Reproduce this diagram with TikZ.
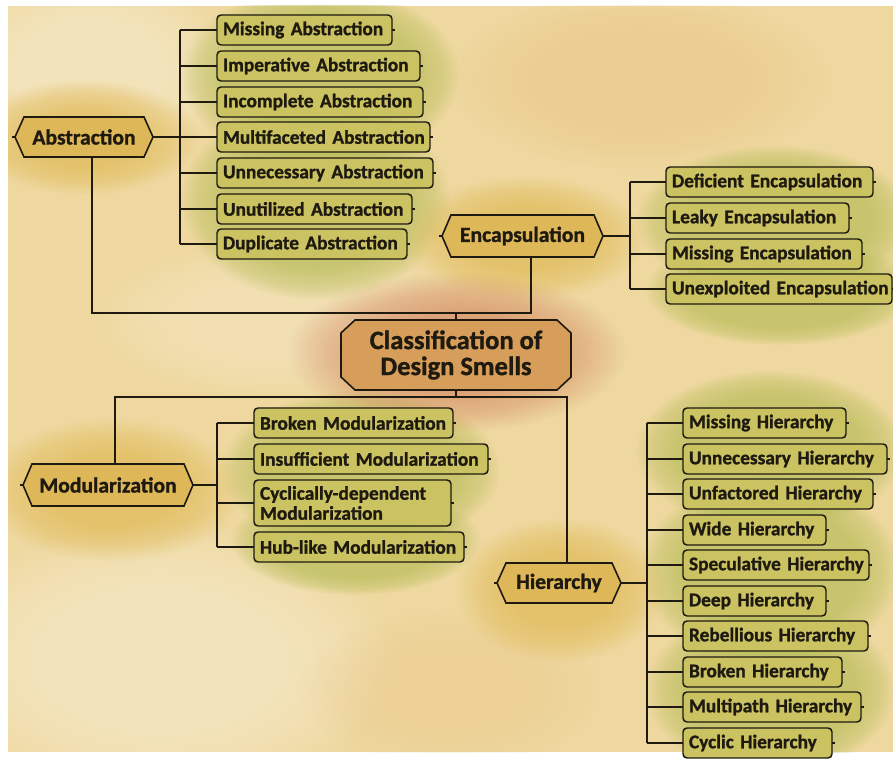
\documentclass[tikz,border=0pt]{standalone}
\usepackage{fontspec}
\setmainfont{Carlito}[BoldFeatures={FakeBold=1.2}]
\usetikzlibrary{fadings,backgrounds}
\definecolor{paper}{HTML}{EED89F}
\definecolor{lineC}{HTML}{1E1A10}
\definecolor{leafC}{HTML}{CBC262}
\definecolor{hexC}{HTML}{DEB758}
\definecolor{cenC}{HTML}{D69E5A}
\definecolor{gblob}{HTML}{B5BB56}
\definecolor{yblob}{HTML}{E0B955}
\definecolor{rblob}{HTML}{CF7E5C}
\definecolor{oblob}{HTML}{E8C080}
\pgfdeclareradialshading{softblobshade}{\pgfpoint{0bp}{0bp}}{color(0bp)=(pgftransparent!0); color(12bp)=(pgftransparent!0); color(19bp)=(pgftransparent!40); color(25bp)=(pgftransparent!100); color(50bp)=(pgftransparent!100)}
\pgfdeclarefading{softblob}{\pgfuseshading{softblobshade}}
\pgfdeclareradialshading{washshade}{\pgfpoint{0bp}{0bp}}{color(0bp)=(pgftransparent!0); color(17bp)=(pgftransparent!0); color(22bp)=(pgftransparent!45); color(25bp)=(pgftransparent!100); color(50bp)=(pgftransparent!100)}
\pgfdeclarefading{wash}{\pgfuseshading{washshade}}
\newcommand\leaffont{\fontsize{14.5}{15}\selectfont\bfseries}
\newcommand\hexfont{\fontsize{16.2}{17}\selectfont\bfseries}
\newcommand\cenfont{\fontsize{19.9}{19.5}\selectfont\bfseries}
\newcommand\hexshape[1]{%
  \draw[hexline] (#1.west) -- ([xshift=6.75pt]#1.north west) -- ([xshift=-6.75pt]#1.north east) -- (#1.east) -- ([xshift=-6.75pt]#1.south east) -- ([xshift=6.75pt]#1.south west) -- cycle;
  \draw[conn] (#1.west) -- ([xshift=-2.5pt]#1.west);}
\tikzset{
  conn/.style={draw=lineC, line width=1.3pt},
  hexline/.style={draw=lineC, line width=1.2pt, fill=hexC, line join=miter},
  hexnode/.style={rectangle, inner sep=0pt, outer sep=0pt, text=lineC, font=\hexfont},
  leaf/.style={draw=lineC, line width=1.1pt, fill=leafC, rounded corners=3pt, anchor=west,
    minimum height=22.5pt, inner xsep=4.5pt, inner ysep=2pt, outer sep=0pt,
    text width={(#1-12)*0.75pt}, align=left, text=lineC, font=\leaffont},
  blob/.style={path fading=softblob},
  gwash/.style={gblob, fill opacity=0.68, path fading=wash},
}
\begin{document}
\begin{tikzpicture}[x=0.75pt,y=-0.75pt]
\useasboundingbox (0,0) rectangle (893,759);

% central
\node[rectangle, minimum width=230*0.75pt, minimum height=70*0.75pt, inner sep=0pt, outer sep=0pt,
  align=center, text=lineC, font=\cenfont] (cen) at (456,355) {Classification of\\Design Smells};

% category nodes
\node[hexnode, minimum width=138*0.75pt, minimum height=40*0.75pt] (abs) at (84,137) {Abstraction};
\node[hexnode, minimum width=161*0.75pt, minimum height=42*0.75pt] (enc) at (522.5,236) {Encapsulation};
\node[hexnode, minimum width=170*0.75pt, minimum height=42*0.75pt] (mod) at (108,485) {Modularization};
\node[hexnode, minimum width=124*0.75pt, minimum height=40*0.75pt] (hie) at (559,583) {Hierarchy};

% abstraction leaves
\node[leaf=175] (a1) at (217,30)  {\mbox{Missing Abstraction}};
\node[leaf=203] (a2) at (217,66)  {\mbox{Imperative Abstraction}};
\node[leaf=206] (a3) at (217,102) {\mbox{Incomplete Abstraction}};
\node[leaf=213] (a4) at (217,137) {\mbox{Multifaceted Abstraction}};
\node[leaf=216] (a5) at (217,173) {\mbox{Unnecessary Abstraction}};
\node[leaf=195] (a6) at (217,209) {\mbox{Unutilized Abstraction}};
\node[leaf=190] (a7) at (217,244) {\mbox{Duplicate Abstraction}};

% encapsulation leaves
\node[leaf=207] (e1) at (666,182) {\mbox{Deficient Encapsulation}};
\node[leaf=183] (e2) at (666,218) {\mbox{Leaky Encapsulation}};
\node[leaf=196] (e3) at (666,254) {\mbox{Missing Encapsulation}};
\node[leaf=226] (e4) at (666,289) {\mbox{Unexploited Encapsulation}};

% modularization leaves
\node[leaf=199] (m1) at (254,423) {\mbox{Broken Modularization}};
\node[leaf=234] (m2) at (254,459) {\mbox{Insufficient Modularization}};
\node[leaf=197, minimum height=34.5pt] (m3) at (254,503) {Cyclically-dependent\\Modularization};
\node[leaf=210] (m4) at (254,547) {\mbox{Hub-like Modularization}};

% hierarchy leaves
\node[leaf=163] (h1) at (683,423) {\mbox{Missing Hierarchy}};
\node[leaf=204] (h2) at (683,459) {\mbox{Unnecessary Hierarchy}};
\node[leaf=190] (h3) at (683,494) {\mbox{Unfactored Hierarchy}};
\node[leaf=143] (h4) at (683,530) {\mbox{Wide Hierarchy}};
\node[leaf=186] (h5) at (683,565) {\mbox{Speculative Hierarchy}};
\node[leaf=143] (h6) at (683,601) {\mbox{Deep Hierarchy}};
\node[leaf=185] (h7) at (683,636) {\mbox{Rebellious Hierarchy}};
\node[leaf=159] (h8) at (683,672) {\mbox{Broken Hierarchy}};
\node[leaf=178] (h9) at (683,707) {\mbox{Multipath Hierarchy}};
\node[leaf=149] (h10) at (683,743) {\mbox{Cyclic Hierarchy}};

\begin{scope}[on background layer]
  \fill[white] (0,0) rectangle (893,759);
  \fill[paper] (8,6) rectangle (893,752);
  \begin{scope}
    \clip (8,6) rectangle (893,752);
    % paper variations
    \fill[white, fill opacity=0.3, blob] (90,70) ellipse (150 and 100);
    \fill[white, fill opacity=0.3, blob] (160,660) ellipse (240 and 140);
    \fill[white, fill opacity=0.2, blob] (280,320) ellipse (190 and 80);
    \fill[oblob, fill opacity=0.45, blob] (640,80) ellipse (190 and 90);
    \fill[oblob, fill opacity=0.3, blob] (450,690) ellipse (150 and 80);
    % green washes: abstraction
    \fill[gwash] (320,75) ellipse (140 and 90);
    \fill[gwash] (315,200) ellipse (135 and 100);
    % encapsulation
    \fill[gwash] (775,220) ellipse (140 and 75);
    \fill[gwash] (780,290) ellipse (135 and 55);
    % modularization
    \fill[gwash] (360,470) ellipse (140 and 80);
    \fill[gwash] (355,540) ellipse (125 and 55);
    % hierarchy
    \fill[gwash] (770,450) ellipse (135 and 80);
    \fill[gwash] (770,570) ellipse (130 and 95);
    \fill[gwash] (770,690) ellipse (125 and 85);
    % yellow halos
    \fill[yblob, fill opacity=0.7, blob] (84,137) ellipse (115 and 58);
    \fill[yblob, fill opacity=0.7, blob] (525,238) ellipse (120 and 62);
    \fill[yblob, fill opacity=0.7, blob] (112,490) ellipse (130 and 72);
    \fill[yblob, fill opacity=0.7, blob] (560,590) ellipse (105 and 72);
    % central halo
    \fill[rblob, fill opacity=0.6, blob] (456,352) ellipse (170 and 80);
  \end{scope}
  % category shapes
  \hexshape{abs}
  \hexshape{enc}
  \hexshape{mod}
  \hexshape{hie}
  % central shape
  \draw[draw=lineC, line width=1.2pt, fill=cenC]
    ([xshift=10.5pt]cen.north west) -- ([xshift=-10.5pt]cen.north east)
    -- ([yshift=-9.75pt]cen.north east) -- ([yshift=9.75pt]cen.south east)
    -- ([xshift=-10.5pt]cen.south east) -- ([xshift=10.5pt]cen.south west)
    -- ([yshift=9.75pt]cen.south west) -- ([yshift=-9.75pt]cen.north west) -- cycle;
\end{scope}

% abstraction tree
\coordinate (abus) at (180,137);
\draw[conn] (abs.east) -- (abus);
\draw[conn] (abus |- a1.west) -- (abus |- a7.west);
\foreach \n in {a1,a2,a3,a4,a5,a6,a7} \draw[conn] (abus |- \n.west) -- (\n.west);

% encapsulation tree
\coordinate (ebus) at (630,236);
\draw[conn] (enc.east) -- (ebus);
\draw[conn] (ebus |- e1.west) -- (ebus |- e4.west);
\foreach \n in {e1,e2,e3,e4} \draw[conn] (ebus |- \n.west) -- (\n.west);

% modularization tree
\coordinate (mbus) at (217,485);
\draw[conn] (mod.east) -- (mbus);
\draw[conn] (mbus |- m1.west) -- (mbus |- m4.west);
\foreach \n in {m1,m2,m3,m4} \draw[conn] (mbus |- \n.west) -- (\n.west);

% hierarchy tree
\coordinate (hbus) at (647,583);
\draw[conn] (hie.east) -- (hbus);
\draw[conn] (hbus |- h1.west) -- (hbus |- h10.west);
\foreach \n in {h1,h2,h3,h4,h5,h6,h7,h8,h9,h10} \draw[conn] (hbus |- \n.west) -- (\n.west);

% right ticks on leaves
\foreach \n in {a1,a2,a3,a4,a5,a6,a7,e1,e2,e3,e4,m1,m2,m3,m4,h1,h2,h3,h4,h5,h6,h7,h8,h9,h10}
  \draw[conn, line width=1pt] (\n.east) -- ++(3,0);

% central connections
\coordinate (jt) at (456,313);
\draw[conn] ([xshift=6pt]abs.south) |- (jt) -| ([xshift=6.4pt]enc.south);
\draw[conn] (jt) -- (cen.north);
\coordinate (jb) at (456,397);
\draw[conn] ([xshift=5.25pt]mod.north) |- (jb) -| ([xshift=6pt]hie.north);
\draw[conn] (cen.south) -- (jb);
\end{tikzpicture}
\end{document}
